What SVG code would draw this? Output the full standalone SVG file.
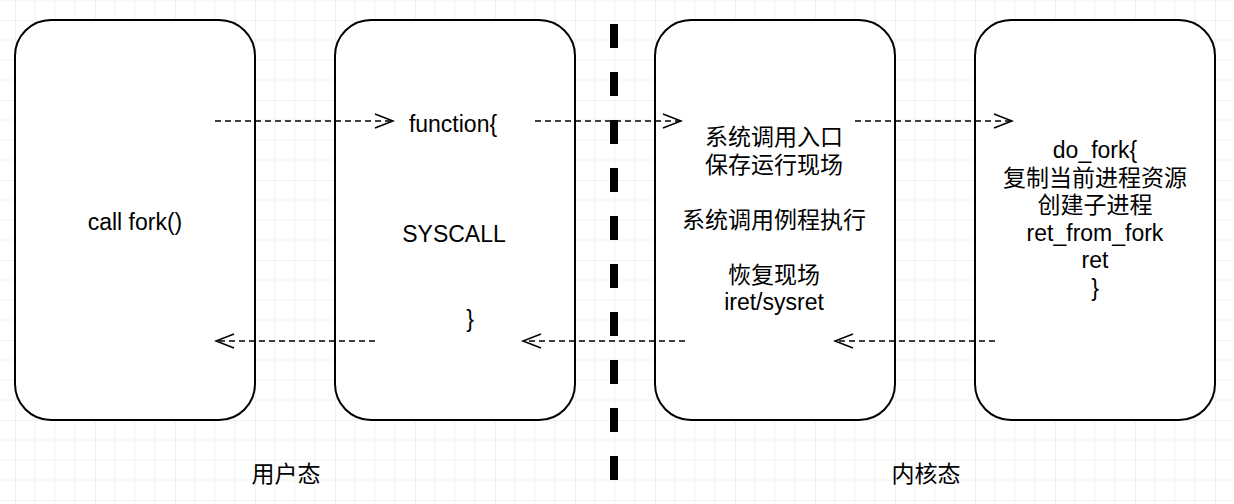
<svg xmlns="http://www.w3.org/2000/svg" width="1234" height="504" viewBox="0 0 1234 504">
<style>
.box{fill:#ffffff;stroke:#000000;stroke-width:2}
.t{font-family:"Liberation Sans","Noto Sans CJK SC",Arial,sans-serif;font-size:23px;fill:#000000;text-anchor:middle}
.c{font-family:"Noto Sans CJK SC","Liberation Sans",sans-serif;font-size:23px;fill:#000000;text-anchor:middle}
.arr{fill:none;stroke:#000000;stroke-width:1.5;stroke-dasharray:6 4}
</style>
<defs>
<pattern id="grid" patternUnits="userSpaceOnUse" x="15" y="20" width="80" height="80">
<path d="M20,0V80M40,0V80M60,0V80M0,20H80M0,40H80M0,60H80" fill="none" stroke="#f2f2f2" stroke-width="1"/>
<path d="M0,0V80M0,0H80" fill="none" stroke="#e3e3e3" stroke-width="1"/>
</pattern>
<marker id="open" markerUnits="userSpaceOnUse" markerWidth="22" markerHeight="18" viewBox="0 0 22 18" refX="19" refY="9" orient="auto">
<path d="M1,2 L19,9 L1,16" fill="none" stroke="#000000" stroke-width="1.5"/>
</marker>
</defs>
<rect x="0" y="0" width="1234" height="504" fill="#ffffff"/>
<rect x="0" y="0" width="1234" height="504" fill="url(#grid)"/>

<g id="node-user">
<rect class="box" x="15" y="20" width="240" height="400" rx="36" ry="36"/>
<text class="t" x="135" y="230">call fork()</text>
</g>

<g id="node-function">
<rect class="box" x="335" y="20" width="240" height="400" rx="36" ry="36"/>
<text class="t" x="453" y="132">function{</text>
<text class="t" x="454" y="242">SYSCALL</text>
<text class="t" x="470" y="327">}</text>
</g>

<g id="node-syscall">
<rect class="box" x="655" y="20" width="240" height="400" rx="36" ry="36"/>
<text class="c" x="774" y="145">系统调用入口</text>
<text class="c" x="774" y="172.5">保存运行现场</text>
<text class="c" x="774" y="227.5">系统调用例程执行</text>
<text class="c" x="774" y="282.5">恢复现场</text>
<text class="t" x="774" y="310">iret/sysret</text>
</g>

<g id="node-dofork">
<rect class="box" x="975" y="20" width="240" height="400" rx="36" ry="36"/>
<text class="t" x="1095" y="158">do_fork{</text>
<text class="c" x="1095" y="185.5">复制当前进程资源</text>
<text class="c" x="1095" y="213">创建子进程</text>
<text class="t" x="1095" y="240.5">ret_from_fork</text>
<text class="t" x="1095" y="268">ret</text>
<text class="t" x="1095" y="295.5">}</text>
</g>

<g id="divider">
<line x1="614" y1="24" x2="614" y2="504" stroke="#000000" stroke-width="8" stroke-dasharray="24 24"/>
</g>

<g id="labels">
<text class="c" x="286" y="482">用户态</text>
<text class="c" x="926" y="482">内核态</text>
</g>

<g id="connectors">
<line class="arr" x1="215" y1="121" x2="393" y2="121" marker-end="url(#open)"/>
<line class="arr" x1="535" y1="121" x2="681" y2="121" marker-end="url(#open)"/>
<line class="arr" x1="855" y1="121" x2="1012" y2="121" marker-end="url(#open)"/>
<line class="arr" x1="375" y1="341" x2="216" y2="341" marker-end="url(#open)"/>
<line class="arr" x1="685" y1="341" x2="523" y2="341" marker-end="url(#open)"/>
<line class="arr" x1="995" y1="341" x2="835" y2="341" marker-end="url(#open)"/>
</g>
</svg>
